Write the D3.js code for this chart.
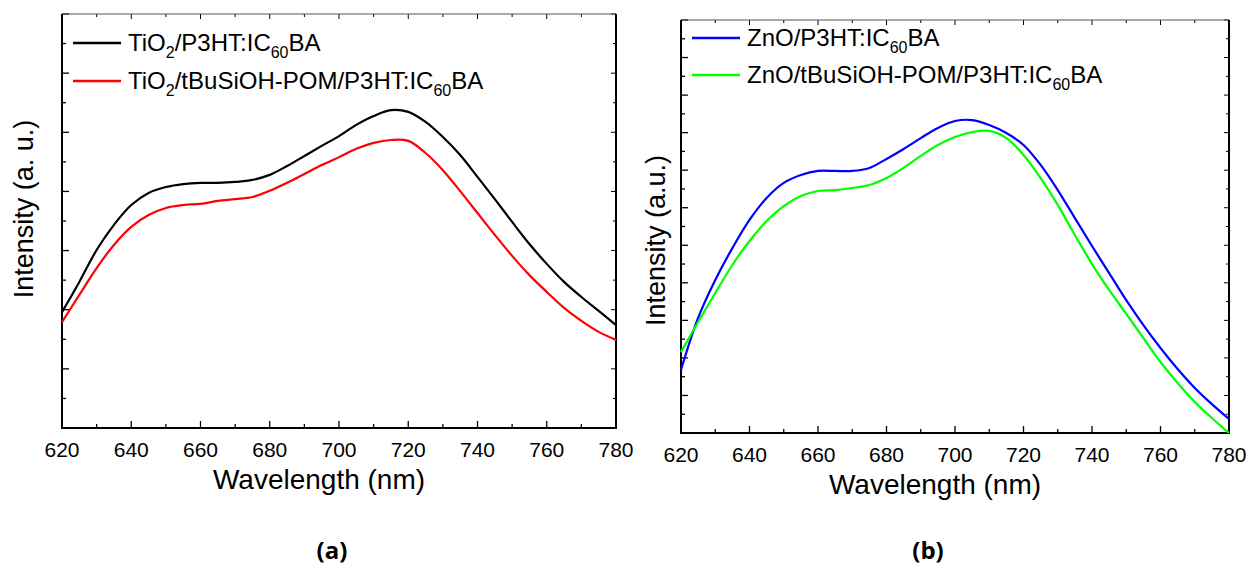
<!DOCTYPE html>
<html>
<head>
<meta charset="utf-8">
<script src="https://cdn.jsdelivr.net/npm/d3@7"></script>
<style>
  body { margin: 0; background: #fff; }
  svg { display: block; }
</style>
</head>
<body>
<svg id="chart" width="1252" height="568"></svg>
<script>
// wavelength grid (nm), shared by all series
const wavelengths = [620, 625, 630, 635, 640, 645, 650, 655, 660, 665, 670, 675, 680, 685, 690, 695,
  700, 705, 710, 715, 720, 725, 730, 735, 740, 745, 750, 755, 760, 765, 770, 775, 780];

// panel (a), intensity in a.u.
const tio2 = [3.92, 4.94, 6.02, 6.87, 7.54, 7.95, 8.15, 8.25, 8.29, 8.29, 8.32, 8.39, 8.56, 8.86, 9.20, 9.54,
  9.87, 10.25, 10.55, 10.75, 10.69, 10.35, 9.84, 9.23, 8.49, 7.74, 6.97, 6.22, 5.55, 4.94, 4.43, 3.96, 3.48];
const tio2Pom = [3.58, 4.50, 5.41, 6.19, 6.80, 7.20, 7.44, 7.54, 7.58, 7.68, 7.74, 7.81, 8.02, 8.29, 8.59, 8.89,
  9.16, 9.44, 9.64, 9.74, 9.71, 9.30, 8.72, 8.01, 7.27, 6.53, 5.82, 5.17, 4.60, 4.06, 3.62, 3.25, 2.98];

// panel (b)
const zno = [3.36, 6.13, 8.15, 9.85, 11.35, 12.52, 13.32, 13.74, 13.96, 13.96, 13.96, 14.12, 14.60, 15.13, 15.71, 16.25,
  16.62, 16.67, 16.41, 15.98, 15.34, 14.28, 12.94, 11.45, 9.96, 8.52, 7.08, 5.75, 4.53, 3.41, 2.40, 1.54, 0.75];
const znoPom = [4.31, 5.91, 7.46, 8.95, 10.23, 11.29, 12.09, 12.62, 12.89, 12.94, 13.05, 13.21, 13.58, 14.12, 14.76, 15.34,
  15.77, 16.03, 16.09, 15.71, 14.81, 13.58, 12.15, 10.55, 9.00, 7.62, 6.34, 5.06, 3.78, 2.66, 1.65, 0.80, 0.00];

const xTicks = [620, 640, 660, 680, 700, 720, 740, 760, 780];

const svg = d3.select('#chart');
const font = '"Liberation Sans", Arial, sans-serif';

function panel(opts) {
  const x = d3.scaleLinear().domain([620, 780]).range([opts.left, opts.right]);
  const y = d3.scaleLinear().domain([0, opts.ymax]).range([opts.bottom, opts.top]);
  const g = svg.append('g');

  const xMinor = d3.range(620, 781, 10);
  const yAll = d3.range(0, opts.ymax + 1, 1);
  const tk = 'black';

  // inward ticks, all four sides
  g.selectAll('.xb').data(xMinor).join('line')
    .attr('x1', d => x(d)).attr('x2', d => x(d))
    .attr('y1', opts.bottom).attr('y2', d => opts.bottom - (d % 20 === 0 ? 7 : 4))
    .attr('stroke', tk).attr('stroke-width', 1.3);
  g.selectAll('.xt').data(xMinor).join('line')
    .attr('x1', d => x(d)).attr('x2', d => x(d))
    .attr('y1', opts.top).attr('y2', d => opts.top + (d % 20 === 0 ? 5 : 3))
    .attr('stroke', tk).attr('stroke-width', 1);
  g.selectAll('.yl').data(yAll).join('line')
    .attr('y1', d => y(d)).attr('y2', d => y(d))
    .attr('x1', opts.left).attr('x2', d => opts.left + (d % 2 === 0 ? 7 : 4))
    .attr('stroke', tk).attr('stroke-width', 1.3);
  g.selectAll('.yr').data(yAll).join('line')
    .attr('y1', d => y(d)).attr('y2', d => y(d))
    .attr('x1', opts.right).attr('x2', d => opts.right - (d % 2 === 0 ? 5 : 3))
    .attr('stroke', tk).attr('stroke-width', 1);

  // frame
  g.append('path')
    .attr('d', `M${opts.left},${opts.top}H${opts.right}`)
    .attr('stroke', '#555').attr('stroke-width', 1.2).attr('fill', 'none');
  g.append('path')
    .attr('d', `M${opts.left},${opts.top}V${opts.bottom}H${opts.right}V${opts.top}`)
    .attr('stroke', 'black').attr('stroke-width', 2).attr('fill', 'none');

  // tick labels
  g.selectAll('.xl').data(xTicks).join('text')
    .attr('x', d => x(d)).attr('y', opts.bottom + 29)
    .attr('text-anchor', 'middle')
    .style('font-family', font).style('font-size', '21px')
    .text(d => d);

  g.append('text')
    .attr('x', (opts.left + opts.right) / 2 - 20).attr('y', opts.bottom + 61)
    .attr('text-anchor', 'middle')
    .style('font-family', font).style('font-size', '28px')
    .text('Wavelength (nm)');

  g.append('text')
    .attr('transform', `translate(${opts.yTitleX},${(opts.top + opts.bottom) / 2 + opts.yTitleDy}) rotate(-90)`)
    .attr('text-anchor', 'middle')
    .attr('dy', '0.35em')
    .style('font-family', font).style('font-size', '27px')
    .text(opts.yTitle);

  const line = d3.line()
    .x((d, i) => x(wavelengths[i]))
    .y(d => y(d))
    .curve(d3.curveCatmullRom.alpha(0.5));

  opts.series.forEach((s, i) => {
    g.append('path').datum(s.values)
      .attr('d', line)
      .attr('fill', 'none').attr('stroke', s.color).attr('stroke-width', 2.2);

    // legend
    const ly = opts.legendY + i * opts.legendGap;
    g.append('line')
      .attr('x1', opts.left + 11).attr('x2', opts.left + 59)
      .attr('y1', ly).attr('y2', ly)
      .attr('stroke', s.color).attr('stroke-width', 2.5);
    const t = g.append('text')
      .attr('x', opts.left + 66).attr('y', ly + 8)
      .style('font-family', font).style('font-size', '24px');
    s.label.forEach(part => {
      const sp = t.append('tspan').text(part[0]);
      if (part[1]) sp.attr('dy', 7).style('font-size', '16px');
      else if (part[2]) sp.attr('dy', -7);
    });
  });

  svg.append('text')
    .attr('x', opts.tag[0]).attr('y', opts.tag[1])
    .attr('text-anchor', 'middle')
    .style('font-family', '"Open Sans", sans-serif').style('font-weight', 'bold').style('font-size', '24px')
    .text(opts.tagText);
}

// label parts: [text, isSubscript, resetsBaseline]
panel({
  left: 62, right: 616, top: 14, bottom: 428, ymax: 14,
  legendY: 43, legendGap: 38,
  yTitle: 'Intensity (a. u.)', yTitleX: 24, yTitleDy: -12,
  series: [
    { values: tio2, color: 'black', label: [['TiO'], ['2', true], ['/P3HT:IC', false, true], ['60', true], ['BA', false, true]] },
    { values: tio2Pom, color: '#ff0000', label: [['TiO'], ['2', true], ['/tBuSiOH-POM/P3HT:IC', false, true], ['60', true], ['BA', false, true]] }
  ],
  tag: [332, 559], tagText: '(a)'
});

panel({
  left: 681, right: 1229, top: 20, bottom: 433, ymax: 22,
  legendY: 38, legendGap: 37,
  yTitle: 'Intensity (a.u.)', yTitleX: 656, yTitleDy: 14,
  series: [
    { values: zno, color: '#0000ff', label: [['ZnO/P3HT:IC'], ['60', true], ['BA', false, true]] },
    { values: znoPom, color: '#00ff00', label: [['ZnO/tBuSiOH-POM/P3HT:IC'], ['60', true], ['BA', false, true]] }
  ],
  tag: [928, 559], tagText: '(b)'
});
</script>
</body>
</html>
